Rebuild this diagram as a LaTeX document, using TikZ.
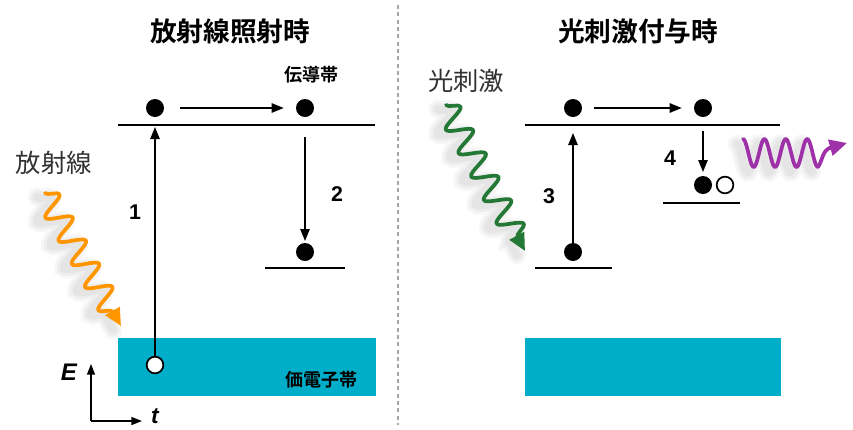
\documentclass[tikz,border=0pt]{standalone}
\usepackage{fontspec}
\setmainfont{Liberation Sans}
\newfontfamily\jp{Noto Sans CJK JP}[BoldFont={Noto Sans CJK JP Bold}]
\usetikzlibrary{decorations.pathmorphing,arrows.meta}
\definecolor{band}{RGB}{0,174,202}
\definecolor{worange}{RGB}{255,150,0}
\definecolor{wgreen}{RGB}{34,120,52}
\definecolor{wpurple}{RGB}{158,48,168}
\definecolor{txtgray}{RGB}{50,50,50}
\tikzset{
  level/.style={line width=1.4pt},
  dot/.style={circle,fill=black,inner sep=0pt,minimum size=13.5pt},
  hole/.style={circle,draw=black,fill=white,line width=1.3pt,inner sep=0pt,minimum size=12.5pt},
  arr/.style={line width=1.1pt,-{Triangle[length=9pt,width=7pt]}},
  bandbox/.style={fill=band,draw=none},
  title/.style={font=\jp\bfseries\fontsize{20}{24}\selectfont},
  small/.style={font=\jp\bfseries\fontsize{13.5}{16}\selectfont},
  lbl/.style={font=\jp\fontsize{19}{22}\selectfont,text=txtgray},
  num/.style={font=\bfseries\fontsize{16}{18}\selectfont},
  wave/.style={line width=2.8pt,line cap=round,line join=round,decorate},
  shadowA/.style={line width=14pt,draw=black,opacity=0.03,line cap=round,decorate},
  shadowB/.style={line width=10pt,draw=black,opacity=0.035,line cap=round,decorate},
  shadowC/.style={line width=6pt,draw=black,opacity=0.04,line cap=round,decorate},
  snk/.style={decoration={snake,amplitude=9pt,segment length=20pt,post length=12pt}},
  wtip/.style={-{Triangle[length=13pt,width=12pt]}},
}
\begin{document}
\begin{tikzpicture}[x=0.75pt,y=-0.75pt]
\useasboundingbox (0,0) rectangle (853,429);
% divider
\draw[gray!70,line width=0.8pt,dash pattern=on 3pt off 2.5pt] (398,5) -- (398,425);
% titles
\node[title] (titleL) at (230,31) {放射線照射時};
\node[title] (titleR) at (638,31) {光刺激付与時};
\node[small] (cbL) at (311,75) {伝導帯};
% ---------- left ----------
\fill[bandbox] (118,338) rectangle (376,396);
\node[small] (vbL) at (321,380) {価電子帯};
\draw[level] (118,125) -- (375,125);
\draw[level] (265,268) -- (345,268);
\node[dot] (c1) at (155,108) {};
\node[dot] (c2) at (305,108) {};
\node[dot] (t1) at (305,252) {};
\node[hole] (h1) at (155,365) {};
\coordinate (a1end) at (155,127);
\coordinate (a2start) at (305,137);
\coordinate (a2end) at (305,241);
\draw[arr] ([xshift=12pt]c1.east) -- ([xshift=-9pt]c2.west);
\draw[arr] (h1) -- (a1end);
\draw[arr] (a2start) -- (a2end);
\node[num] (n1) at (135,212) {1};
\node[num] (n2) at (337,194) {2};
% orange wave
\coordinate (oS) at (45,193);
\coordinate (oE) at (121,326);
\foreach \s in {shadowA,shadowB,shadowC}
  \draw[\s,snk] ([xshift=-6pt,yshift=-3pt]oS) -- ([xshift=-6pt,yshift=-3pt]oE);
\draw[wave,worange,snk,wtip] (oS) -- (oE);
\node[lbl] (lblL) at (54,163) {放射線};
% axes
\coordinate (ax0) at (91,421);
\coordinate (axE) at (91,364);
\coordinate (axt) at (142,421);
\draw[line width=1.1pt,-{Triangle[length=8pt,width=6pt]}] (ax0) -- (axE);
\draw[line width=1.1pt,-{Triangle[length=8pt,width=6pt]}] (ax0) -- (axt);
\node[font=\bfseries\itshape\fontsize{18}{20}\selectfont] (E) at (69,372) {E};
\node[font=\bfseries\itshape\fontsize{17}{19}\selectfont] (t) at (155,416) {t};
% ---------- right ----------
\fill[bandbox] (525,338) rectangle (781,396);
\draw[level] (525,125) -- (780,125);
\draw[level] (535,268) -- (612,268);
\draw[level] (663,203) -- (740,203);
\node[dot] (c3) at (573,108) {};
\node[dot] (c4) at (703,108) {};
\node[dot] (t2) at (573,252) {};
\node[dot] (t3) at (703,185) {};
\node[hole] (h3) at (725,185) {};
\coordinate (a3end) at (573,133);
\coordinate (a4start) at (703,131);
\coordinate (a4end) at (703,172);
\draw[arr] ([xshift=9pt]c3.east) -- ([xshift=-9pt]c4.west);
\draw[arr] (t2) -- (a3end);
\draw[arr] (a4start) -- (a4end);
\node[num] (n3) at (549,196) {3};
\node[num] (n4) at (670,158) {4};
% green wave
\coordinate (gS) at (446,105);
\coordinate (gE) at (525,251);
\foreach \s in {shadowA,shadowB,shadowC}
  \draw[\s,snk] ([xshift=-6pt,yshift=-3pt]gS) -- ([xshift=-6pt,yshift=-3pt]gE);
\draw[wave,wgreen,snk,wtip] (gS) -- (gE);
\node[lbl] (lblR) at (466,81) {光刺激};
% purple wave
\coordinate (pT) at (847,143);
\foreach \w/\o in {14/0.03,10/0.035,6/0.04}
  \draw[line width=\w pt,black,opacity=\o,line cap=round,shift={(-6,5)}] plot[domain=0:3.5,samples=80,smooth] ({743+\x*21.4},{153-14*cos(\x*360)});
\draw[line width=2.8pt,wpurple,line cap=round,line join=round] plot[domain=0:3.5,samples=80,smooth] ({743+\x*21.4},{153-14*cos(\x*360)});
\draw[line width=2.8pt,wpurple,line cap=round,wtip] (818,167) .. controls (823,160) and (822,150) .. (pT);
\end{tikzpicture}
\end{document}
